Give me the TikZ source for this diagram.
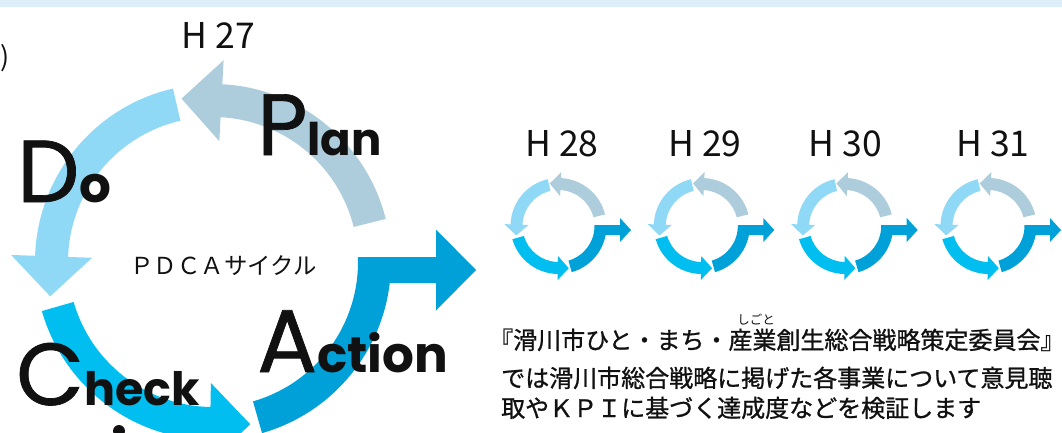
\documentclass[tikz,border=0pt]{standalone}
\usepackage{fontspec}
\setmainfont{Noto Sans CJK JP}
\newfontfamily\pdcacapfont{Poppins}[FakeBold=0.8]
\newfontfamily\pdcalowfont{Poppins}
\newfontfamily\jpbody{Noto Sans CJK JP}[FakeBold=1]
\usetikzlibrary{calc}
\definecolor{plancol}{RGB}{173,205,221}
\definecolor{docol}{RGB}{143,217,246}
\definecolor{chkcol}{RGB}{0,190,240}
\definecolor{actcol}{RGB}{0,160,216}
\definecolor{bandcol}{RGB}{221,238,250}
\definecolor{inkcol}{RGB}{17,17,17}
% #1 cx, #2 cy, #3 inner r, #4 outer r, #5 head half width, #6 head length,
% #7 shaft top dy, #8 shaft bottom dy, #9 arrow base dx
\newcommand{\pdcacycle}[9]{%
  \pgfmathsetmacro{\pcmid}{(#3+#4)/2}%
  \pgfmathsetmacro{\pcwo}{\pcmid+#5}%
  \pgfmathsetmacro{\pcwi}{\pcmid-#5}%
  \pgfmathsetmacro{\pcat}{asin(#7/#3)}%
  \pgfmathsetmacro{\pcab}{asin(#8/#4)}%
  \pgfmathsetmacro{\pcsc}{(#7+#8)/2}%
  \coordinate (pcC) at (#1,#2);
  % Plan
  \fill[plancol] ($(pcC)+(14:#4pt)$) arc[start angle=14,end angle=87,radius=#4pt]
    -- ($(pcC)+(87:\pcwo pt)$) -- ($(pcC)+(87:\pcmid pt)+(177:#6pt)$)
    -- ($(pcC)+(87:\pcwi pt)$) -- ($(pcC)+(87:#3pt)$)
    arc[start angle=87,end angle=14,radius=#3pt] -- cycle;
  % Do
  \fill[docol] ($(pcC)+(103:#4pt)$) arc[start angle=103,end angle=178,radius=#4pt]
    -- ($(pcC)+(178:\pcwo pt)$) -- ($(pcC)+(178:\pcmid pt)+(268:#6pt)$)
    -- ($(pcC)+(178:\pcwi pt)$) -- ($(pcC)+(178:#3pt)$)
    arc[start angle=178,end angle=103,radius=#3pt] -- cycle;
  % Check
  \fill[chkcol] ($(pcC)+(196:#4pt)$) arc[start angle=196,end angle=269,radius=#4pt]
    -- ($(pcC)+(269:\pcwo pt)$) -- ($(pcC)+(269:\pcmid pt)+(359:#6pt)$)
    -- ($(pcC)+(269:\pcwi pt)$) -- ($(pcC)+(269:#3pt)$)
    arc[start angle=269,end angle=196,radius=#3pt] -- cycle;
  % Action
  \fill[actcol] ($(pcC)+(-74:#3pt)$) arc[start angle=-74,end angle=\pcat,radius=#3pt]
    -- ({#1+#9},{#2+#7}) -- ({#1+#9},{#2+\pcsc+#5}) -- ({#1+#9+#6},{#2+\pcsc})
    -- ({#1+#9},{#2+\pcsc-#5}) -- ({#1+#9},{#2+#8})
    -- ($(pcC)+(\pcab:#4pt)$) arc[start angle=\pcab,end angle=-74,radius=#4pt] -- cycle;
}
% big word: #1 initial size, #2 initial, #3 rest size, #4 rest
\newcommand{\bigword}[4]{%
  {\pdcacapfont\fontsize{#1}{#1}\selectfont #2}{\pdcalowfont\bfseries\fontsize{#3}{#3}\selectfont #4}}
\tikzset{
  biglabel/.style={inner sep=0pt, anchor=base west, text=inkcol},
  yearlabel/.style={inner sep=0pt, text=inkcol, font=\fontsize{35.5}{35.5}\selectfont},
  bodytext/.style={inner sep=0pt, anchor=base west, text=inkcol, font=\jpbody\fontsize{24}{24}\selectfont},
}
\begin{document}
\begin{tikzpicture}[x=1pt,y=1pt]
\useasboundingbox (0,0) rectangle (1062,-432);
\fill[white] (0,0) rectangle (1062,-432);
\fill[bandcol] (0,0) rectangle (1062,-7);

% big cycle
\pdcacycle{213}{-262}{145}{178}{40.5}{40}{5}{-21}{223}

% big labels
\node[biglabel] (plan) at (257,-155) {\bigword{87}{P}{45}{lan}};
\node[biglabel] (do) at (17,-202) {\bigword{88}{D}{50}{o}};
\node[biglabel] (check) at (16,-405) {\bigword{88}{C}{46}{heck}};
\node[biglabel] (action) at (257,-372) {\bigword{89}{A}{50}{ction}};
\fill[inkcol] (119,-431) circle (6pt);

\node[inner sep=0pt, text=inkcol, font=\fontsize{23.4}{23.4}\selectfont] (pdca) at (223.5,-265.5) {ＰＤＣＡサイクル};
\node[yearlabel] (h27) at (218.5,-35) {H 27};
\node[inner sep=0pt, anchor=base east, text=inkcol, font=\fontsize{27}{27}\selectfont] (paren) at (10,-66) {)};

% small cycles
\pdcacycle{558.5}{-226}{36}{48}{12}{11}{1}{-9}{61.5}
\pdcacycle{701.8}{-226}{36}{48}{12}{11}{1}{-9}{61.5}
\pdcacycle{845.2}{-226}{36}{48}{12}{11}{1}{-9}{61.5}
\pdcacycle{988.5}{-226}{36}{48}{12}{11}{1}{-9}{61.5}
\node[yearlabel] (h28) at (562,-143.5) {H 28};
\node[yearlabel] (h29) at (705,-143.5) {H 29};
\node[yearlabel] (h30) at (845.5,-143.5) {H 30};
\node[yearlabel] (h31) at (993,-143.5) {H 31};

% description text
\node[inner sep=0pt, text=inkcol, font=\fontsize{12.5}{12.5}\selectfont] (ruby) at (756,-320) {しごと};
\node[bodytext] (line1) at (489,-349) {『滑川市ひと・まち・産業創生総合戦略策定委員会』};
\node[bodytext] (line2) at (501,-387) {では滑川市総合戦略に掲げた各事業について意見聴};
\node[bodytext] (line3) at (501,-417) {取やＫＰＩに基づく達成度などを検証します};
\end{tikzpicture}
\end{document}
